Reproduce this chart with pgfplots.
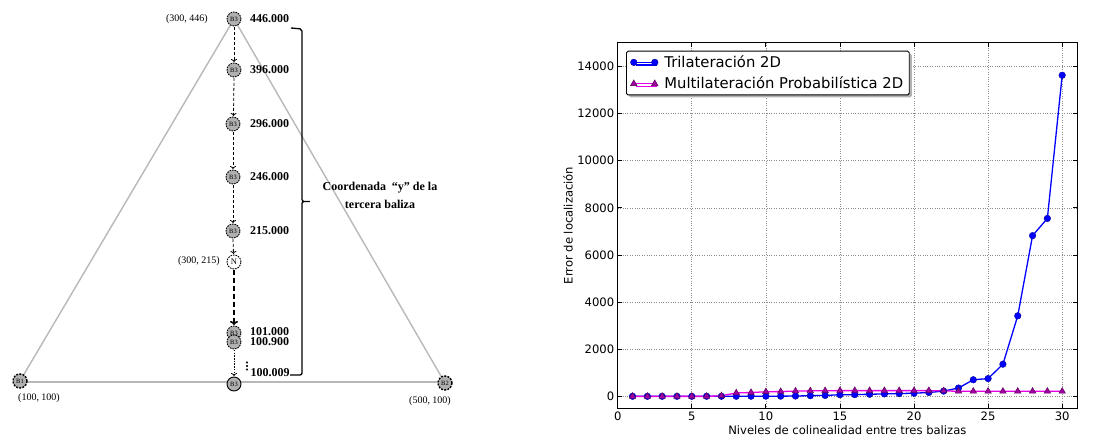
\documentclass[border=0pt]{standalone}
\usepackage{fontspec}
\setmainfont{Liberation Serif}
\newfontfamily\dejavu{DejaVu Sans}
\usepackage{pgfplots}
\pgfplotsset{compat=1.18}
\usetikzlibrary{arrows.meta,shadows}
\definecolor{nodegray}{HTML}{B0B0B0}
\definecolor{trigray}{HTML}{B8B8B8}
\definecolor{mpurple}{HTML}{A000A0}
\definecolor{mmag}{HTML}{E600E6}
\begin{document}
\begin{tikzpicture}
\useasboundingbox (0,0) rectangle (1094pt,439pt);
% ---------------- left diagram (pixel-like coordinates, y = 439 - ypx)
\begin{axis}[at={(0pt,0pt)}, anchor=south west, x=1pt, y=1pt,
  xmin=0, xmax=460, ymin=0, ymax=439, hide axis, clip=false, scale only axis]
\addplot[trigray, line width=1.4pt, mark=none] coordinates {(20,58) (234,420) (445,56)};
\addplot[trigray, line width=1.4pt, mark=none] coordinates {(20,57) (445,57)};
% arrows
\addplot[black, dash pattern=on 3pt off 2pt, line width=0.8pt, mark=none, -{To[length=3pt,width=6pt]}] coordinates {(234,412) (234,377)};
\addplot[black, dash pattern=on 3pt off 2pt, line width=0.8pt, mark=none, -{To[length=3pt,width=6pt]}] coordinates {(234,361) (233.5,323)};
\addplot[black, dash pattern=on 3pt off 2pt, line width=0.8pt, mark=none, -{To[length=3pt,width=6pt]}] coordinates {(233,307) (233,270)};
\addplot[black, dash pattern=on 3pt off 2pt, line width=0.8pt, mark=none, -{To[length=3pt,width=6pt]}] coordinates {(233,254) (233,216)};
\addplot[black, dash pattern=on 3pt off 2pt, line width=0.8pt, mark=none, -{To[length=3pt,width=6pt]}] coordinates {(233,200) (233.5,185)};
\addplot[black, dash pattern=on 5pt off 3pt, line width=1.6pt, mark=none, -{To[length=4pt,width=8pt]}] coordinates {(234,169) (234,114)};
\addplot[black, dash pattern=on 1.5pt off 1.2pt, line width=0.8pt, mark=none, -{To[length=3pt,width=6pt]}] coordinates {(234,89) (234,63)};
% ellipsis dots beside 100.009
\addplot[only marks, mark=*, mark size=0.8pt, black] coordinates {(247,76.5) (247,73) (247,69.5)};
% nodes
\addplot[only marks, mark=*, mark size=7pt,
  mark options={fill=nodegray, draw=black, dash pattern=on 1.6pt off 1pt, line width=0.9pt},
  nodes near coords, point meta=explicit symbolic,
  nodes near coords style={anchor=center, inner sep=0pt, font=\fontsize{6.5}{6.5}\selectfont}]
  table[meta=lab] {
x y lab
234 420 B3
234 369 B3
233 315 B3
233 262 B3
233 208 B3
234 106 B3
234 97 B3
};
\addplot[only marks, mark=*, mark size=7pt,
  mark options={fill=nodegray, draw=black, dash pattern=on 2pt off 1.2pt, line width=1.4pt},
  nodes near coords, point meta=explicit symbolic,
  nodes near coords style={anchor=center, inner sep=0pt, font=\fontsize{6.5}{6.5}\selectfont}]
  table[meta=lab] {
x y lab
20 58 B1
445 56 B2
};
\addplot[only marks, mark=*, mark size=7pt,
  mark options={fill=white, draw=black, dash pattern=on 1.6pt off 1pt, line width=0.9pt},
  nodes near coords, point meta=explicit symbolic,
  nodes near coords style={anchor=center, inner sep=0pt, font=\fontsize{8.5}{8.5}\selectfont}]
  table[meta=lab] {
x y lab
234 177 N
};
\addplot[only marks, mark=*, mark size=7pt,
  mark options={fill=nodegray, draw=black, solid, line width=0.9pt},
  nodes near coords, point meta=explicit symbolic,
  nodes near coords style={anchor=center, inner sep=0pt, font=\fontsize{6.5}{6.5}\selectfont}]
  table[meta=lab] {
x y lab
234 55 B3
};
% bracket
\addplot[black, line width=1.3pt, mark=none, rounded corners=2pt] coordinates {(291,411) (302,410) (302,237.5) (311,237.5) (302,237.5) (302,64) (290,64)};
% texts
\begin{scope}[every node/.style={inner sep=0pt}]
\node[anchor=east, font=\fontsize{10}{12}\selectfont] at (axis cs:208,420) {(300, 446)};
\node[anchor=east, font=\fontsize{10}{12}\selectfont] at (axis cs:220,178) {(300, 215)};
\node[anchor=center, font=\fontsize{10}{12}\selectfont] at (axis cs:39,41) {(100, 100)};
\node[anchor=center, font=\fontsize{10}{12}\selectfont] at (axis cs:430,38) {(500, 100)};
\node[anchor=west, font=\bfseries\fontsize{12}{14}\selectfont] at (axis cs:250,420) {446.000};
\node[anchor=west, font=\bfseries\fontsize{12}{14}\selectfont] at (axis cs:250,369) {396.000};
\node[anchor=west, font=\bfseries\fontsize{12}{14}\selectfont] at (axis cs:250,315) {296.000};
\node[anchor=west, font=\bfseries\fontsize{12}{14}\selectfont] at (axis cs:250,262) {246.000};
\node[anchor=west, font=\bfseries\fontsize{12}{14}\selectfont] at (axis cs:250,208) {215.000};
\node[anchor=west, font=\bfseries\fontsize{12}{14}\selectfont] at (axis cs:250,107) {101.000};
\node[anchor=west, font=\bfseries\fontsize{12}{14}\selectfont] at (axis cs:250,97) {100.900};
\node[anchor=west, font=\bfseries\fontsize{12}{14}\selectfont] at (axis cs:250.5,66.5) {100.009};
\node[anchor=center, font=\bfseries\fontsize{12}{14}\selectfont] at (axis cs:380,251) {Coordenada \ “y” de la};
\node[anchor=center, font=\bfseries\fontsize{12}{14}\selectfont] at (axis cs:380,235) {tercera baliza};
\end{scope}
\end{axis}
% ---------------- right chart
\begin{axis}[at={(617.7pt,30.7pt)}, anchor=south west,
  width=459.3pt, height=365.6pt, scale only axis,
  xmin=0, xmax=31, ymin=-500, ymax=15000,
  xtick={0,5,...,30}, ytick={0,2000,...,14000},
  scaled y ticks=false,
  grid=major, grid style={dotted, gray!90, line width=0.6pt},
  axis line style={line width=1pt},
  tick style={black, line width=0.8pt}, major tick length=4pt,
  tick label style={font=\dejavu\fontsize{11.6}{13}\selectfont},
  /pgf/number format/assume math mode=true,
  /pgf/number format/set thousands separator={},
  xlabel={Niveles de colinealidad entre tres balizas},
  ylabel={Error de localización},
  every axis x label/.style={at={(axis description cs:0.5,-0.061)}, anchor=center, font=\dejavu\fontsize{11.6}{13}\selectfont},
  every axis y label/.style={at={(axis description cs:-0.108,0.5)}, rotate=90, anchor=center, font=\dejavu\fontsize{11.6}{13}\selectfont},
  legend cell align=left,
  legend image code/.code={\draw[#1] plot coordinates {(0pt,0pt) (21pt,0pt)}; \path (28pt,0pt);},
  legend style={at={(axis description cs:0.0181,0.978)}, anchor=north west,
    font=\dejavu\fontsize{14.8}{17}\selectfont, draw=black, line width=0.9pt,
    rounded corners=1.5pt, fill=white,
    drop shadow={shadow xshift=2.5pt, shadow yshift=-2.5pt, fill=gray!60, opacity=1},
    inner xsep=4pt, inner ysep=2.5pt, row sep=4pt},
]
\addplot[blue, line width=1.3pt, mark=*, mark size=3.3pt,
  mark options={fill=blue, draw=blue!60!black, line width=0.4pt, solid}] coordinates {
(1,10) (2,8) (3,8) (4,8) (5,8) (6,10) (7,10) (8,10) (9,12) (10,15)
(11,15) (12,20) (13,35) (14,45) (15,75) (16,80) (17,95) (18,110) (19,125) (20,140)
(21,170) (22,230) (23,360) (24,710) (25,760) (26,1370) (27,3420) (28,6820) (29,7550) (30,13620)};
\addlegendentry{Trilateración 2D}
\addplot[mmag, line width=1.3pt, mark=triangle*, mark size=3.8pt,
  mark options={fill=mpurple, draw=mpurple!50!black, line width=0.4pt, solid}] coordinates {
(1,5) (2,5) (3,5) (4,5) (5,5) (6,5) (7,30) (8,150) (9,170) (10,200)
(11,210) (12,230) (13,240) (14,245) (15,250) (16,250) (17,250) (18,250) (19,250) (20,250)
(21,250) (22,240) (23,220) (24,220) (25,220) (26,220) (27,220) (28,220) (29,220) (30,220)};
\addlegendentry{Multilateración Probabilística 2D}
\end{axis}
\end{tikzpicture}
\end{document}
